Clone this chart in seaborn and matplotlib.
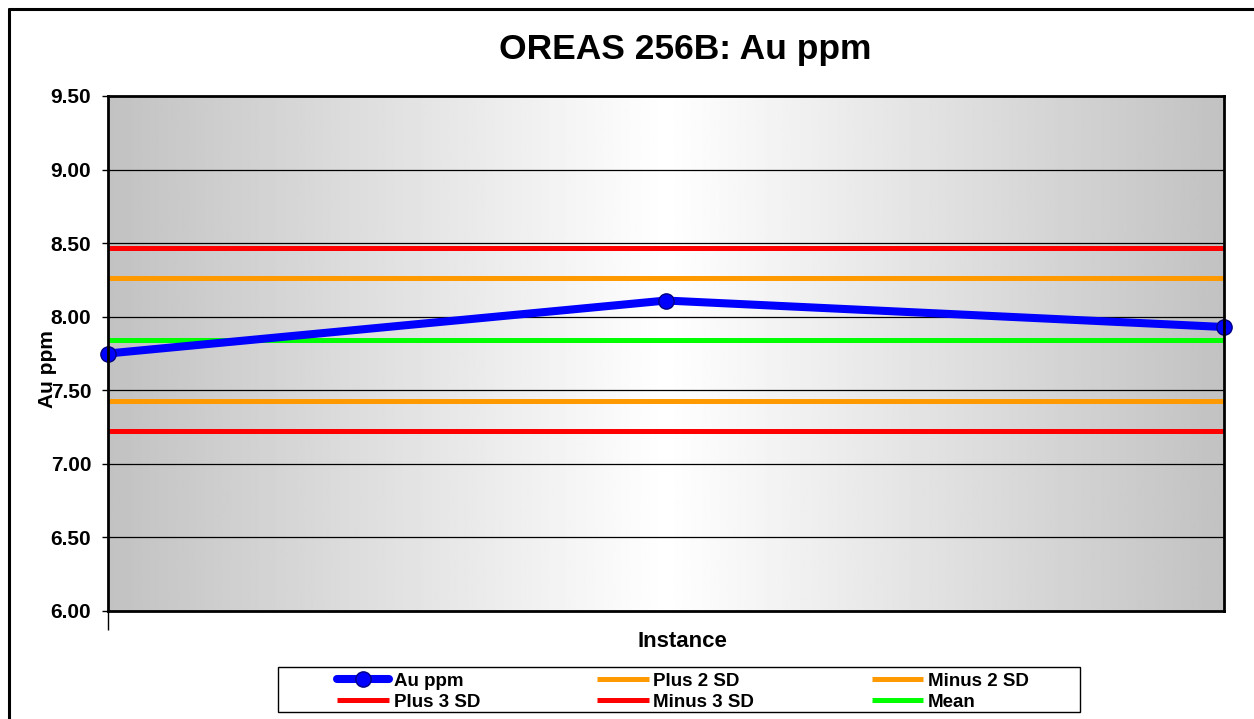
import numpy as np
import pandas as pd
import matplotlib
matplotlib.use("Agg")
import matplotlib.pyplot as plt
from matplotlib.lines import Line2D
from matplotlib.patches import Rectangle
import seaborn as sns

# --- data -------------------------------------------------------------
instances = [1, 2, 3]
au_ppm = [7.75, 8.11, 7.93]
plus_2sd = [8.26, 8.26, 8.26]
minus_2sd = [7.43, 7.43, 7.43]
plus_3sd = [8.47, 8.47, 8.47]
minus_3sd = [7.22, 7.22, 7.22]
mean = [7.84, 7.84, 7.84]
y_ticks = [6.00, 6.50, 7.00, 7.50, 8.00, 8.50, 9.00, 9.50]

sns.set_theme(style="white")
plt.rcParams["font.family"] = ["Liberation Sans", "DejaVu Sans"]
plt.rcParams["font.weight"] = "bold"
plt.rcParams["text.color"] = "black"
plt.rcParams["axes.labelcolor"] = "black"
plt.rcParams["xtick.color"] = "black"
plt.rcParams["ytick.color"] = "black"

W, H = 1254, 719
fig = plt.figure(figsize=(W / 100, H / 100), dpi=100)
fig.patch.set_facecolor("white")

# plot area in pixel terms
left, right, top, bottom = 108, 1224, 96, 611
ax = fig.add_axes([left / W, (H - bottom) / H, (right - left) / W, (bottom - top) / H])

# horizontal grey -> white -> grey gradient behind the plot
grad = np.abs(np.linspace(-1, 1, 512))
shade = 1.0 - 0.24 * grad
img = np.tile(shade, (2, 1))
ax.imshow(img, cmap="gray", vmin=0, vmax=1, aspect="auto",
          extent=[instances[0], instances[-1], y_ticks[0], y_ticks[-1]],
          zorder=0, interpolation="bilinear")

ax.set_xlim(instances[0], instances[-1])
ax.set_ylim(y_ticks[0], y_ticks[-1])

# horizontal grid lines
for yv in y_ticks[1:-1]:
    ax.axhline(yv, color="black", lw=0.9, zorder=1)

lw_ref = 3.6
series = [
    ("Plus 2 SD", plus_2sd, "#FF9900"),
    ("Minus 2 SD", minus_2sd, "#FF9900"),
    ("Plus 3 SD", plus_3sd, "#FF0000"),
    ("Minus 3 SD", minus_3sd, "#FF0000"),
    ("Mean", mean, "#00FF00"),
]
for name, vals, col in series:
    sns.lineplot(x=instances, y=vals, color=col, lw=lw_ref, ax=ax,
                 label=name, zorder=3, solid_capstyle="butt")

sns.lineplot(x=instances, y=au_ppm, color="#0000FF", lw=5.8, marker="o",
             markersize=11, markeredgecolor="#000080", markeredgewidth=1.0,
             markerfacecolor="#0000FF", ax=ax, label="Au ppm", zorder=5,
             clip_on=False)

# axes styling
for sp in ax.spines.values():
    sp.set_visible(True)
    sp.set_color("black")
    sp.set_linewidth(2.0)
    sp.set_zorder(6)

ax.set_yticks(y_ticks)
ax.set_yticklabels([f"{v:.2f}" for v in y_ticks], fontsize=15,
                   fontweight="bold", color="black")
ax.tick_params(axis="y", direction="out", length=4, width=1, color="black",
               pad=8, left=True)
ax.set_xticks([instances[0]])
ax.set_xticklabels([""])
ax.tick_params(axis="x", direction="out", length=14, width=1, color="black",
               bottom=True)

ax.set_xlabel("Instance", fontsize=16, fontweight="bold", color="black")
ax.xaxis.set_label_coords(0.515, -0.060)
ax.xaxis.label.set_va("center")
ax.set_ylabel("Au ppm", fontsize=15, fontweight="bold", color="black")
ax.yaxis.set_label_coords(-0.0538, 0.47)
ax.yaxis.label.set_va("center")

fig.text(685.5 / W, 1 - 50 / H, "OREAS 256B: Au ppm", ha="center", va="center",
         fontsize=25.5, fontweight="bold", color="black")

# legend, row-major order across three columns, inside a drawn box
handles, labels = ax.get_legend_handles_labels()
lut = dict(zip(labels, handles))
order = ["Au ppm", "Plus 3 SD", "Plus 2 SD", "Minus 3 SD", "Minus 2 SD", "Mean"]
if ax.get_legend():
    ax.get_legend().remove()
fig.add_artist(Rectangle((278 / W, 1 - 712 / H), 802 / W, 45 / H,
                         transform=fig.transFigure, facecolor="white",
                         edgecolor="black", lw=1.0, zorder=1))
leg = fig.legend([lut[k] for k in order], order, ncol=3,
                 bbox_to_anchor=(328 / W, 1 - 663 / H), loc="upper left",
                 frameon=False, borderpad=0, labelspacing=0.22,
                 handlelength=2.75, handletextpad=0.25, columnspacing=6.25,
                 prop={"size": 13.5, "weight": "bold"})
leg.set_zorder(2)

# chart outline (left and top edges)
fig.add_artist(Line2D([9 / W, 9 / W], [0, 1 - 9 / H], color="black", lw=2.2,
                      transform=fig.transFigure))
fig.add_artist(Line2D([9 / W, 1], [1 - 9 / H, 1 - 9 / H], color="black", lw=2.2,
                      transform=fig.transFigure))

fig.savefig("out.png", dpi=100)
